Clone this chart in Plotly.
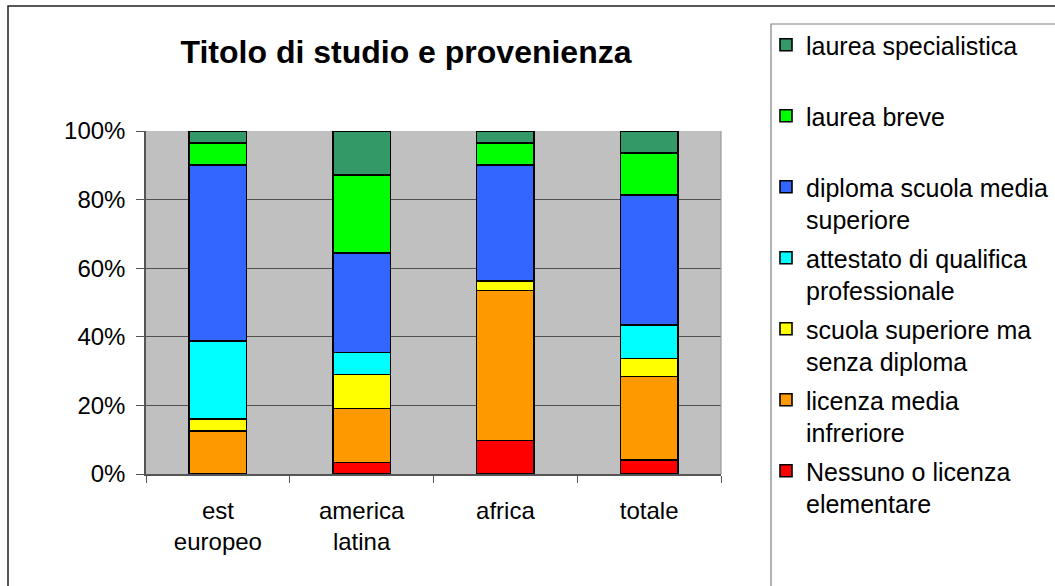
import plotly.graph_objects as go

categories = ["est<br>europeo", "america<br>latina", "africa", "totale"]

series_names = [
    "Nessuno o licenza<br>elementare",
    "licenza media<br>infreriore",
    "scuola superiore ma<br>senza diploma",
    "attestato di qualifica<br>professionale",
    "diploma scuola media<br>superiore",
    "laurea breve<br> ",
    "laurea specialistica<br> ",
]

nessuno = [0.0, 3.4, 9.8, 4.0]
licenza_media = [12.6, 15.7, 43.7, 24.4]
scuola_sup_senza = [3.5, 9.9, 2.8, 5.3]
attestato = [22.7, 6.4, 0.0, 9.8]
diploma = [51.3, 29.1, 33.8, 37.9]
laurea_breve = [6.4, 22.7, 6.4, 12.2]
laurea_spec = [3.5, 12.8, 3.5, 6.4]

series_values = [nessuno, licenza_media, scuola_sup_senza, attestato,
                 diploma, laurea_breve, laurea_spec]
colors = ["#FF0000", "#FF9900", "#FFFF00", "#00FFFF", "#3366FF", "#00FF00", "#339966"]

y_tickvals = [0, 20, 40, 60, 80, 100]
y_ticktext = ["0%", "20%", "40%", "60%", "80%", "100%"]

FONT = "Liberation Sans, Arial, sans-serif"

fig = go.Figure()
n = len(series_names)
for i, (name, vals, col) in enumerate(zip(series_names, series_values, colors)):
    fig.add_trace(go.Bar(
        x=categories, y=vals, name=name, legendgroup=f"g{i}",
        legendrank=n - i,
        marker=dict(color=col, line=dict(color="black", width=1.6)),
    ))

W, H = 1055, 586
L, R, T, B = 146, 334, 131, 112
pw, ph = W - L - R, H - T - B

def px_x(px):
    return (px - L) / pw

def px_y(py):
    return (H - B - py) / ph

fig.update_layout(
    width=W, height=H,
    margin=dict(l=L, r=R, t=T, b=B, pad=0),
    barmode="stack", barnorm="percent", bargap=0.6,
    paper_bgcolor="white", plot_bgcolor="#C0C0C0",
    font=dict(family=FONT, size=24, color="black"),
    title=dict(text="<b>Titolo di studio e provenienza</b>",
               font=dict(family=FONT, size=32, color="black"),
               x=406 / W, xanchor="center", xref="container",
               y=1 - 52 / H, yanchor="middle", yref="container"),
    legend=dict(
        xref="container", yref="container",
        x=766 / W, xanchor="left", y=1 - 22 / H, yanchor="top",
        traceorder="grouped", tracegroupgap=3, valign="top",
        font=dict(family=FONT, size=25, color="black"),
        bgcolor="rgba(0,0,0,0)", borderwidth=0, itemwidth=30,
        maxheight=600,
    ),
    xaxis=dict(
        type="category", showgrid=False, ticks="outside", ticklen=7,
        tickcolor="#555555", tickson="boundaries",
        showline=True, linecolor="#555555", linewidth=1.5, mirror=False,
        tickfont=dict(family=FONT, size=24), ticklabelstandoff=14,
    ),
    yaxis=dict(
        range=[0, 100], tickvals=y_tickvals, ticktext=y_ticktext,
        showgrid=True, gridcolor="#505050", gridwidth=1.2,
        ticks="outside", ticklen=8, tickcolor="#555555",
        showline=True, linecolor="#555555", linewidth=1.5,
        zeroline=False, tickfont=dict(family=FONT, size=24),
        ticklabelstandoff=6,
    ),
    shapes=[
        dict(type="rect", xref="paper", yref="paper",
             x0=px_x(8), x1=px_x(1100), y0=px_y(640), y1=px_y(6),
             line=dict(color="#222222", width=1.5), fillcolor="rgba(0,0,0,0)"),
        dict(type="rect", xref="paper", yref="paper",
             x0=px_x(771), x1=px_x(1100), y0=px_y(640), y1=px_y(24),
             line=dict(color="#808080", width=1.2), fillcolor="rgba(0,0,0,0)"),
        dict(type="line", xref="paper", yref="paper",
             x0=1, x1=1, y0=0, y1=1, line=dict(color="#9a9a9a", width=1.2)),
    ],
)

fig.write_html("out.html")
